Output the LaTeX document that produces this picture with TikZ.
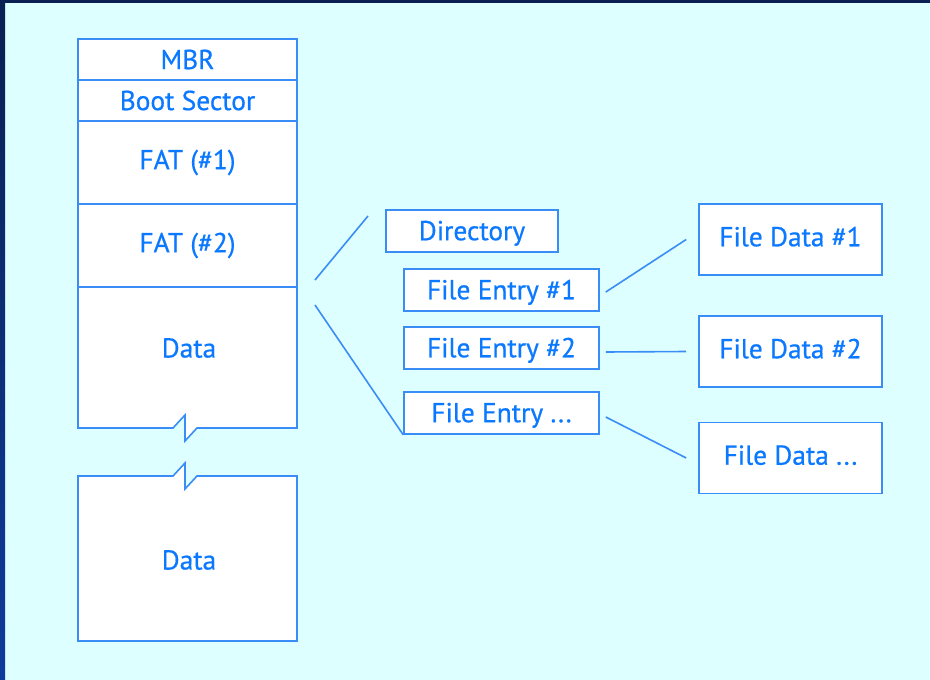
\documentclass[tikz,border=0pt]{standalone}
\usepackage{fontspec}
\setmainfont{PT Sans}[FakeBold=0.6]
\definecolor{bgcyan}{HTML}{DEFFFF}
\definecolor{edgeblue}{HTML}{3A8DF7}
\definecolor{txtblue}{HTML}{0A78FF}
\definecolor{navytop}{HTML}{0A1F52}
\definecolor{navybot}{HTML}{0E3C9C}
\begin{document}
\begin{tikzpicture}[x=1pt,y=-1pt,
  cell/.style={draw=edgeblue,fill=white,line width=1.6pt,minimum width=219pt,
    inner sep=0pt,font=\fontsize{27.4}{31}\selectfont,text=txtblue},
  entry/.style={draw=edgeblue,fill=white,line width=1.6pt,minimum width=195pt,
    minimum height=42pt,inner sep=0pt,text depth=1pt,
    font=\fontsize{27.4}{31}\selectfont,text=txtblue},
  filedata/.style={draw=edgeblue,fill=white,line width=1.6pt,minimum width=183pt,
    minimum height=71pt,inner sep=0pt,text depth=6pt,
    font=\fontsize{27.4}{31}\selectfont,text=txtblue},
  link/.style={draw=edgeblue,line width=1.6pt},
  label/.style={font=\fontsize{27.4}{31}\selectfont,text=txtblue,inner sep=0pt}]
% background and frame
\fill[bgcyan] (0,0) rectangle (930,680);
\useasboundingbox (0,0) rectangle (930,680);
\shade[top color=navytop,bottom color=navybot] (0,0) rectangle (5,680);
\fill[navytop] (0,0) rectangle (930,2.5);

% partition stack
\node[cell,minimum height=41pt] (mbr) at (187.5,59.5) {MBR};
\node[cell,minimum height=41pt] (boot) at (187.5,100.5) {Boot Sector};
\node[cell,minimum height=83pt] (fat1) at (187.5,162.5) {FAT (\#1)};
\node[cell,minimum height=83pt] (fat2) at (187.5,245.5) {FAT (\#2)};
% data region, broken at the bottom
\draw[link,fill=white,line join=miter]
  (78,287) -- (297,287) -- (297,428) -- (197,428) -- (185,441) -- (185,415)
  -- (173,428) -- (78,428) -- cycle;
\node[label] (data1) at (189,348) {Data};
\draw[link,fill=white,line join=miter]
  (78,476) -- (173,476) -- (185,463) -- (185,489) -- (197,476) -- (297,476)
  -- (297,641) -- (78,641) -- cycle;
\node[label] (data2) at (189,560) {Data};

% directory entries
\node[entry,minimum width=172pt] (dir) at (472,231) {Directory};
\node[entry] (fe1) at (501.5,290) {File Entry \#1};
\node[entry] (fe2) at (501.5,348) {File Entry \#2};
\node[entry] (fe3) at (501.5,413) {File Entry ...};

% file data blocks
\node[filedata] (fd1) at (790.5,239.5) {File Data \#1};
\node[filedata] (fd2) at (790.5,351.5) {File Data \#2};
\node[filedata] (fd3) at (790.5,458) {File Data ...};

% expansion of the data region into the directory
\coordinate (dirtip) at (368,216);
\coordinate (fromfat) at (315,280);
\coordinate (fromdata) at (315,305);
\draw[link] (fromfat) -- (dirtip);
\draw[link] (fromdata) -- (fe3.south west);

% entries pointing to their data
\draw[link] ([xshift=6pt,yshift=-2pt]fe1.east) -- ([xshift=-12pt]fd1.west);
\draw[link] ([xshift=6pt,yshift=-4pt]fe2.east) -- ([xshift=-12pt]fd2.west);
\draw[link] ([xshift=6pt,yshift=-4pt]fe3.east) -- ([xshift=-12pt]fd3.west);
\end{tikzpicture}
\end{document}
